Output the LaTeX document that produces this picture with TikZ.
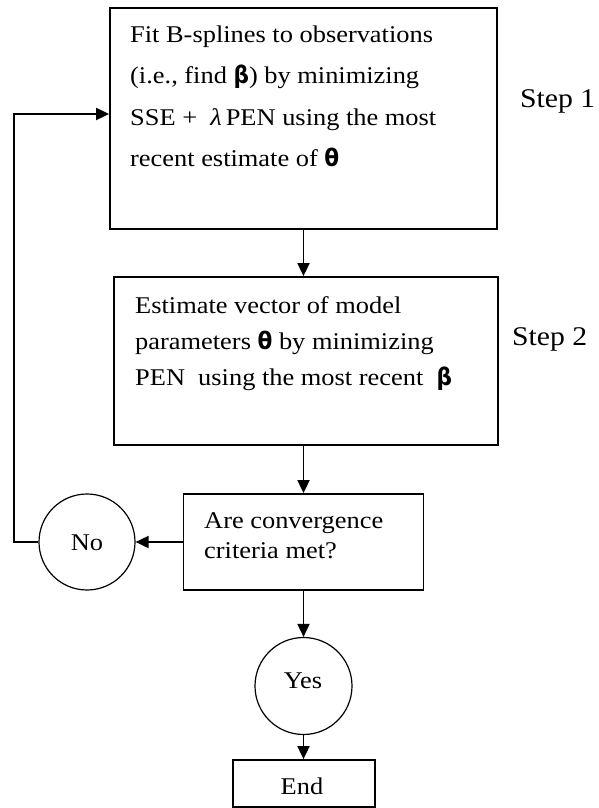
\documentclass[tikz,border=0pt]{standalone}
\usepackage{fontspec}
\setmainfont{Liberation Serif}[FakeStretch=1.1]
\newfontfamily\grk{DejaVu Sans}[FakeStretch=0.9]
\usetikzlibrary{arrows.meta,calc}
\newcommand{\gbeta}{{\grk\bfseries β}}
\newcommand{\gtheta}{{\grk\bfseries θ}}
\begin{document}
\begin{tikzpicture}[x=1pt,y=-1pt,
  box/.style={draw,line width=1.8pt,inner sep=0pt},
  circ/.style={draw,circle,line width=1.2pt,inner sep=0pt,minimum size=96pt},
  txt/.style={anchor=base west,inner sep=0pt,font=\fontsize{24}{28}\selectfont},
  ctxt/.style={anchor=base,inner sep=0pt,font=\fontsize{24}{28}\selectfont},
  steptxt/.style={anchor=base west,inner sep=0pt,font=\fontsize{27}{32}\selectfont},
  arr/.style={line width=1.8pt,-{Triangle[length=13pt,width=12pt]}}]
\useasboundingbox (0,0) rectangle (599,808);
% boxes
\node[box,minimum width=387pt,minimum height=221pt] (b1) at (303.5,118.5) {};
\node[box,minimum width=384pt,minimum height=168pt] (b2) at (306,361) {};
\node[box,minimum width=240pt,minimum height=96pt] (b3) at (303.5,542) {};
\node[box,minimum width=142pt,minimum height=47pt] (bend) at (304,783.5) {};
\node[circ] (no) at (87,542) {};
\node[circ,minimum size=97pt] (yes) at (303.5,686) {};
% texts box 1
\node[txt] (t1a) at (130,43) {Fit B-splines to observations};
\node[txt] (t1b) at (130,84) {(i.e., find \gbeta) by minimizing};
\node[txt] (t1c) at (130,125) {SSE +\ \ \textit{λ}\,PEN using the most};
\node[txt] (t1d) at (130,166) {recent estimate of \gtheta};
% texts box 2
\node[txt] (t2a) at (135,313) {Estimate vector of model};
\node[txt] (t2b) at (135,349) {parameters \gtheta\ by minimizing};
\node[txt] (t2c) at (135,385) {PEN\ \ using the most recent\ \ \gbeta};
% texts box 3
\node[txt] (t3a) at (204,528) {Are convergence};
\node[txt] (t3b) at (204,558) {criteria met?};
% circle and end labels
\node[ctxt] (tno) at (87,550) {No};
\node[ctxt] (tyes) at (303,688) {Yes};
\node[ctxt] (tend) at (302,794) {End};
% step labels
\node[steptxt] (s1) at (520,107) {Step 1};
\node[steptxt] (s2) at (512,345) {Step 2};
% connectors
\coordinate (loop) at (14,114);
\draw[arr] (b1.south) -- (b1.south |- b2.north);
\draw[arr] (b3.north |- b2.south) -- (b3.north);
\draw[arr] (b3.west) -- (no.east);
\draw[arr] (yes.north |- b3.south) -- (yes.north);
\draw[arr] (yes.south) -- (bend.north -| yes.south);
\draw[arr] (no.west) -| (loop) -- (loop -| b1.west);
\end{tikzpicture}
\end{document}
